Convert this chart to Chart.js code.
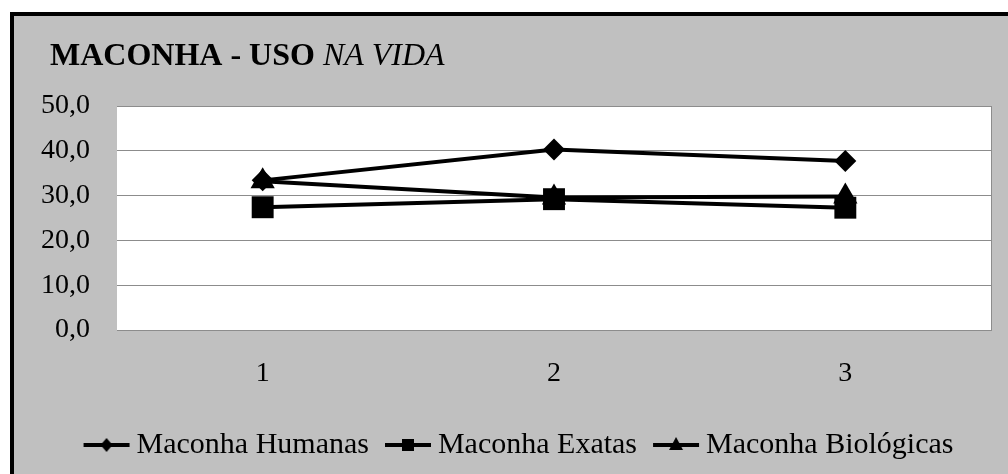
<!DOCTYPE html>
<html>
<head>
<meta charset="utf-8">
<style>
  html, body { margin: 0; padding: 0; background: #ffffff; }
  #wrap { position: relative; width: 1008px; height: 474px; }
  canvas { display: block; }
</style>
<script src="https://cdn.jsdelivr.net/npm/chart.js@4.4.1/dist/chart.umd.min.js"></script>
</head>
<body>
<div id="wrap"><canvas id="c" width="1008" height="474"></canvas></div>
<script>
const categories = ['1', '2', '3'];
const humanas = [33.4, 40.3, 37.7];
const exatas = [27.4, 29.2, 27.3];
const biologicas = [33.2, 29.6, 29.8];
const seriesNames = ['Maconha Humanas', 'Maconha Exatas', 'Maconha Biológicas'];
const yTickLabels = ['0,0', '10,0', '20,0', '30,0', '40,0', '50,0'];
const titleBold = 'MACONHA - USO ';
const titleItalic = 'NA VIDA';

const FONT = '"Liberation Serif", "Times New Roman", serif';

function legendIcon(style) {
  const c = document.createElement('canvas');
  c.width = 48; c.height = 24;
  const g = c.getContext('2d');
  g.fillStyle = '#000'; g.strokeStyle = '#000';
  g.lineWidth = 4;
  g.beginPath(); g.moveTo(1, 12); g.lineTo(47, 12); g.stroke();
  g.beginPath();
  if (style === 'diamond') {
    g.moveTo(24, 5); g.lineTo(30, 12); g.lineTo(24, 19); g.lineTo(18, 12);
  } else if (style === 'square') {
    g.rect(18, 6, 12, 12);
  } else {
    g.moveTo(24, 4); g.lineTo(31, 17); g.lineTo(17, 17);
  }
  g.closePath(); g.fill();
  return c;
}
const icons = [legendIcon('diamond'), legendIcon('square'), legendIcon('triangle')];

const bgPlugin = {
  id: 'bg',
  beforeDraw(chart) {
    const ctx = chart.ctx, a = chart.chartArea;
    ctx.save();
    ctx.fillStyle = '#ffffff';
    ctx.fillRect(0, 0, chart.width, chart.height);
    ctx.fillStyle = '#c0c0c0';
    ctx.fillRect(10, 12, chart.width - 10, chart.height - 12);
    ctx.fillStyle = '#000000';
    ctx.fillRect(10, 12, chart.width - 10, 4);
    ctx.fillRect(10, 12, 4, chart.height - 12);
    ctx.fillStyle = '#ffffff';
    ctx.fillRect(a.left, a.top, a.right - a.left, a.bottom - a.top);
    ctx.strokeStyle = '#8c8c8c';
    ctx.lineWidth = 1;
    ctx.beginPath();
    ctx.moveTo(a.right + 0.5, a.top);
    ctx.lineTo(a.right + 0.5, a.bottom);
    ctx.stroke();
    ctx.restore();
  },
  afterDraw(chart) {
    const ctx = chart.ctx;
    ctx.save();
    ctx.fillStyle = '#000';
    ctx.textBaseline = 'alphabetic';
    ctx.font = 'bold 32px ' + FONT;
    ctx.fillText(titleBold, 50, 65);
    const w = ctx.measureText(titleBold).width;
    ctx.font = 'italic 32px ' + FONT;
    ctx.fillText(titleItalic, 50 + w, 65);
    ctx.restore();
  }
};

const common = { borderColor: '#000', backgroundColor: '#000', borderWidth: 4, tension: 0, clip: false,
  pointBorderWidth: 0, pointHoverRadius: 0 };

const chart = new Chart(document.getElementById('c'), {
  type: 'line',
  data: {
    labels: categories,
    datasets: [
      Object.assign({ label: seriesNames[0], data: humanas, pointStyle: 'rectRot', pointRadius: 11, order: 2 }, common),
      Object.assign({ label: seriesNames[1], data: exatas, pointStyle: 'rect', pointRadius: 15.5, order: 0 }, common),
      Object.assign({ label: seriesNames[2], data: biologicas, pointStyle: 'triangle', pointRadius: 14, order: 1 }, common)
    ]
  },
  options: {
    responsive: false,
    animation: false,
    devicePixelRatio: 1,
    layout: { padding: { left: 14, right: 17, top: 106, bottom: 4 } },
    scales: {
      x: {
        offset: true,
        grid: { display: false, drawTicks: false },
        border: { display: true, color: '#8c8c8c', width: 1 },
        ticks: { color: '#000', padding: 27, font: { family: FONT, size: 28 } },
        afterFit(s) { s.height = 76; }
      },
      y: {
        min: 0, max: 50,
        grid: { color: '#8c8c8c', lineWidth: 1, drawTicks: false },
        border: { display: false },
        ticks: {
          stepSize: 10, color: '#000', padding: 27, font: { family: FONT, size: 28 },
          callback: function (value, index) { return yTickLabels[index]; }
        },
        afterFit(s) { s.width = 103; }
      }
    },
    plugins: {
      title: { display: false },
      tooltip: { enabled: false },
      legend: {
        display: true,
        position: 'bottom',
        align: 'center',
        labels: {
          color: '#000',
          font: { family: FONT, size: 30 },
          usePointStyle: true,
          pointStyleWidth: 30,
          padding: 24,
          generateLabels(chart) {
            return chart.data.datasets.map((d, i) => ({
              text: d.label, fillStyle: '#000', strokeStyle: '#000', lineWidth: 0,
              pointStyle: icons[i], hidden: false, datasetIndex: i, fontColor: '#000'
            }));
          }
        }
      }
    }
  },
  plugins: [bgPlugin]
});

// shift the legend slightly right, as in the original layout
const legend = chart.legend;
const origDraw = legend.draw.bind(legend);
legend.draw = function () {
  const ctx = chart.ctx;
  ctx.save();
  ctx.translate(20, 0);
  origDraw();
  ctx.restore();
};
chart.draw();
</script>
</body>
</html>
